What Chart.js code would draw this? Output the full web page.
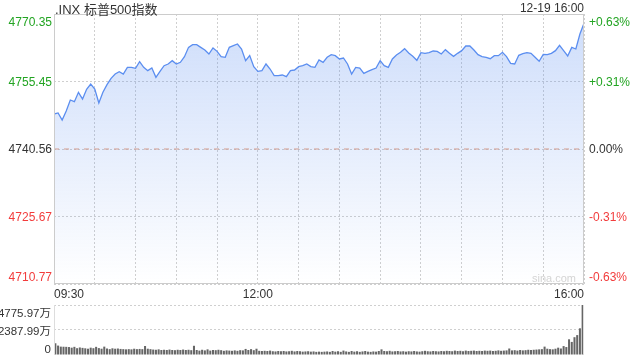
<!DOCTYPE html>
<html lang="zh">
<head>
  <meta charset="UTF-8" />
  <title>.INX 标普500指数</title>
  <script src="https://cdn.jsdelivr.net/npm/chart.js"></script>
  <style>
    body {
      margin: 0;
      background: #fff;
      font-family: 'Liberation Sans', Arial, 'Noto Sans CJK SC', sans-serif;
    }
    .wrap {
      position: relative;
      width: 640px;
      height: 360px;
      overflow: hidden;
    }
    canvas {
      position: absolute;
      left: 0;
    }
    #priceChart { top: 0; }
    #volChart { top: 300px; }
    .title {
      position: absolute;
      left: 55px;
      top: -1px;
      font-size: 13px;
      color: #333;
    }
    .stamp {
      position: absolute;
      right: 56px;
      top: 1px;
      font-size: 12px;
      color: #333;
    }
    .mark {
      position: absolute;
      left: 532px;
      top: 272px;
      font-size: 11px;
      color: #d4d4d4;
    }
  </style>
</head>
<body>

<div class="wrap">
  <canvas id="priceChart" width="640" height="300"></canvas>
  <canvas id="volChart" width="640" height="60"></canvas>
  <div class="title">.INX 标普500指数</div>
  <div class="stamp">12-19 16:00</div>
  <div class="mark">sina.com</div>
</div>

<script>
  // price every 3 minutes from 09:30 to 16:00
  const prices = [
    4748.28, 4748.51, 4746.96, 4748.95, 4751.37, 4751.01, 4753.07, 4751.59, 4753.73, 4754.90,
    4753.80, 4750.71, 4753.07, 4754.76, 4756.15, 4757.11, 4757.63, 4757.11, 4758.58, 4758.58,
    4758.36, 4759.83, 4758.58, 4757.85, 4758.43, 4756.38, 4757.70, 4758.95, 4759.32, 4760.05,
    4759.32, 4759.69, 4760.94, 4762.99,
    4763.58, 4763.58, 4762.99, 4762.41, 4761.52, 4762.85, 4762.11, 4760.94, 4760.79, 4762.99,
    4763.36, 4763.73, 4762.63, 4760.05, 4761.16, 4758.73, 4757.70, 4757.85, 4759.32, 4758.21,
    4756.74, 4756.74, 4756.89, 4756.52, 4757.85, 4757.99, 4758.73, 4758.95, 4759.32, 4758.73,
    4758.58, 4760.20,
    4759.69, 4760.79, 4761.38, 4761.16, 4760.42, 4760.64, 4759.32, 4757.11, 4758.58, 4758.43,
    4757.26, 4757.70, 4758.07, 4758.43, 4760.05, 4758.95, 4758.58, 4760.42, 4761.30, 4761.89,
    4762.70, 4761.74, 4761.01, 4760.13, 4761.82, 4761.67, 4761.82, 4762.19, 4762.11, 4761.52,
    4762.48, 4761.67,
    4761.01, 4761.67, 4762.26, 4763.29, 4763.29, 4762.41, 4761.38, 4760.94, 4760.79, 4760.49,
    4761.16, 4761.16, 4761.89, 4760.94, 4759.46, 4759.32, 4761.23, 4761.60, 4761.82, 4761.67,
    4760.79, 4759.91, 4761.45, 4761.38, 4761.67, 4762.26, 4763.44, 4762.26, 4761.08, 4762.99,
    4762.63, 4765.94, 4768.29
  ];

  // volume (万) every 2 minutes
  const volumes = [
    1120, 900, 800, 790, 780, 760, 700, 780, 650, 720,
    680, 640, 600, 700, 650, 780, 660, 600, 800, 620,
    560, 640, 600, 620, 580, 560, 540, 560, 540, 600,
    560, 580, 560, 860, 600, 560, 520, 500, 540, 480,
    500, 480, 520, 480, 460, 500, 480, 520, 480, 500,
    460, 880, 480, 420, 500, 440, 540, 420, 480, 460,
    500, 460, 400, 440, 420, 400, 440, 400, 460, 440,
    580, 480, 560, 460, 600, 400, 380, 400, 380, 420,
    360, 340, 380, 360, 380, 340, 360, 400, 340, 380,
    360, 320, 340, 360, 320, 340, 300, 320, 300, 320,
    340, 300, 380, 320, 360, 300, 420, 340, 300, 380,
    320, 360, 300, 340, 380, 320, 300, 340, 320, 380,
    540, 380, 360, 400, 340, 360, 380, 340, 360, 320,
    360, 340, 380, 340, 320, 360, 400, 360, 340, 380,
    360, 340, 380, 360, 400, 380, 360, 420, 380, 400,
    360, 420, 380, 400, 420, 380, 400, 380, 420, 400,
    420, 380, 400, 440, 400, 420, 440, 620, 440, 460,
    420, 480, 440, 460, 500, 480, 500, 520, 540, 560,
    800, 600, 560, 540, 600, 700, 620, 850, 760, 1500,
    1250, 1700, 1900, 2550, 4775.97
  ];

  const prevClose = 4740.56;
  const priceTicks = [4710.77, 4725.67, 4740.56, 4755.45, 4770.35];
  const pctLabels = ['-0.63%', '-0.31%', '0.00%', '+0.31%', '+0.63%'];
  const volTicks = [0, 2387.99, 4775.97];
  const volLabels = ['0', '2387.99万', '4775.97万'];
  const xTickMinutes = [0, 150, 390];
  const xTickLabels = ['09:30', '12:00', '16:00'];

  const FONT = "'Liberation Sans', Arial, 'Noto Sans CJK SC', sans-serif";
  const GREEN = '#22a422';
  const RED = '#f23c3c';
  const GRID = '#cfcfcf';

  // push the top label down and the bottom label up, like the original
  function edgeLabel(text, index, count) {
    if (index === count - 1) return ['', text];
    if (index === 0) return [text, ''];
    return text;
  }

  function tickColor(ctx) {
    const v = ctx.tick.value;
    if (v > prevClose + 0.01) return GREEN;
    if (v < prevClose - 0.01) return RED;
    return '#333';
  }

  // fixed axis width, no extra room for the two-line edge labels
  function fixWidth(w) {
    return (s) => {
      s.width = w;
      s.paddingTop = 0;
      s.paddingBottom = 0;
    };
  }

  // light frame round the plot area
  const framePlugin = {
    id: 'frame',
    afterDatasetsDraw(chart, args, opts) {
      const a = chart.chartArea;
      const ctx = chart.ctx;
      ctx.save();
      ctx.strokeStyle = opts.color || '#ccc';
      ctx.lineWidth = 1;
      ctx.beginPath();
      if (opts.full) {
        ctx.rect(a.left + 0.5, a.top + 0.5, a.right - a.left - 1, a.bottom - a.top - 1);
      } else {
        ctx.moveTo(a.left + 0.5, a.top);
        ctx.lineTo(a.left + 0.5, a.bottom);
        ctx.moveTo(a.right - 0.5, a.top);
        ctx.lineTo(a.right - 0.5, a.bottom);
      }
      ctx.stroke();
      ctx.restore();
    }
  };

  Chart.defaults.font.family = FONT;
  Chart.defaults.font.size = 12;

  const priceCtx = document.getElementById('priceChart').getContext('2d');
  new Chart(priceCtx, {
    type: 'line',
    data: {
      datasets: [{
        data: prices.map((p, i) => ({ x: i * 3, y: p })),
        borderColor: '#5b8ef0',
        borderWidth: 1.3,
        pointRadius: 0,
        tension: 0,
        fill: 'start',
        backgroundColor: (c) => {
          const area = c.chart.chartArea;
          if (!area) return 'rgba(91,142,240,0.2)';
          const g = c.chart.ctx.createLinearGradient(0, area.top, 0, area.bottom);
          g.addColorStop(0, 'rgba(91,142,240,0.30)');
          g.addColorStop(1, 'rgba(91,142,240,0.0)');
          return g;
        }
      }, {
        data: [{ x: 0, y: prevClose }, { x: 390, y: prevClose }],
        borderColor: '#e9a07e',
        borderWidth: 1,
        borderDash: [5, 5],
        pointRadius: 0,
        fill: false
      }]
    },
    options: {
      responsive: false,
      animation: false,
      layout: { padding: { top: 14 } },
      plugins: {
        legend: { display: false },
        tooltip: { enabled: false },
        frame: { full: true, color: '#cccccc' }
      },
      scales: {
        x: {
          type: 'linear',
          min: 0,
          max: 390,
          afterFit: (s) => { s.height = 16; },
          grid: { color: GRID, drawTicks: false },
          border: { display: false, dash: [2, 2] },
          ticks: {
            stepSize: 30,
            autoSkip: false,
            maxRotation: 0,
            padding: 3,
            align: 'inner',
            color: '#333',
            callback: (v) => {
              const k = xTickMinutes.indexOf(v);
              return k >= 0 ? xTickLabels[k] : '';
            }
          }
        },
        y: {
          position: 'left',
          min: priceTicks[0],
          max: priceTicks[priceTicks.length - 1],
          afterFit: fixWidth(54),
          afterBuildTicks: (s) => { s.ticks = priceTicks.map(v => ({ value: v })); },
          grid: { color: GRID, drawTicks: false },
          border: { display: false, dash: [2, 2] },
          ticks: {
            autoSkip: false,
            padding: 2,
            labelOffset: 1,
            color: tickColor,
            callback: (v, i) => edgeLabel(priceTicks[i].toFixed(2), i, priceTicks.length)
          }
        },
        yr: {
          position: 'right',
          min: priceTicks[0],
          max: priceTicks[priceTicks.length - 1],
          afterFit: fixWidth(56),
          afterBuildTicks: (s) => { s.ticks = priceTicks.map(v => ({ value: v })); },
          grid: { display: false, drawTicks: false },
          border: { display: false },
          ticks: {
            autoSkip: false,
            padding: 5,
            labelOffset: 1,
            color: tickColor,
            callback: (v, i) => edgeLabel(pctLabels[i], i, pctLabels.length)
          }
        }
      }
    },
    plugins: [framePlugin]
  });

  const volCtx = document.getElementById('volChart').getContext('2d');
  new Chart(volCtx, {
    type: 'bar',
    data: {
      labels: volumes.map((_, i) => i),
      datasets: [{
        data: volumes,
        backgroundColor: '#666666',
        barPercentage: 0.75,
        categoryPercentage: 1
      }]
    },
    options: {
      responsive: false,
      animation: false,
      layout: { padding: { top: 5, bottom: 5, right: 56 } },
      plugins: {
        legend: { display: false },
        tooltip: { enabled: false },
        frame: { full: false, color: '#dddddd' }
      },
      scales: {
        x: {
          display: false
        },
        y: {
          min: 0,
          max: volTicks[volTicks.length - 1],
          afterFit: fixWidth(54),
          afterBuildTicks: (s) => { s.ticks = volTicks.map(v => ({ value: v })); },
          grid: {
            drawTicks: false,
            color: (c) => c.tick && c.tick.value === 0 ? 'rgba(0,0,0,0)' : GRID
          },
          border: { display: false, dash: [2, 2] },
          ticks: {
            autoSkip: false,
            padding: 3,
            labelOffset: 1.5,
            color: '#333',
            font: { size: 11.5 },
            callback: (v, i) => edgeLabel(volLabels[i], i, volLabels.length)
          }
        }
      }
    },
    plugins: [framePlugin]
  });
</script>

</body>
</html>
